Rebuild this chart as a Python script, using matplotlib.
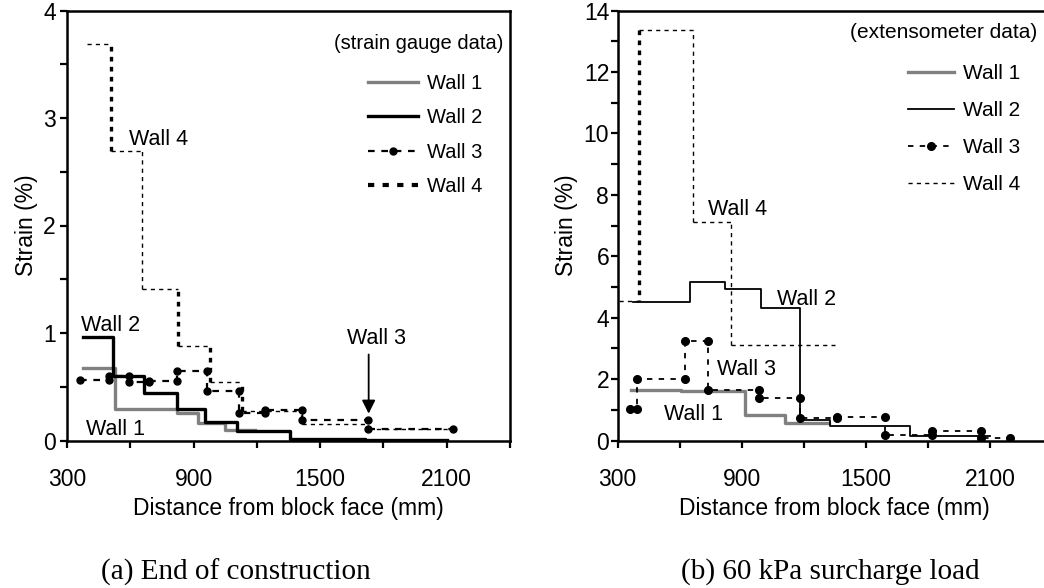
import numpy as np
import matplotlib.pyplot as plt
from matplotlib.lines import Line2D

plt.rcParams['font.family'] = ['Liberation Sans', 'DejaVu Sans']

# (a) end of construction - strain gauge data
# step edges (mm from block face) and strain (%) on each step
a_w1_x = [376, 526, 821, 920, 1050, 1192]
a_w1_y = [0.67, 0.29, 0.26, 0.16, 0.10]
a_w2_x = [376, 516, 663, 821, 955, 1108, 1358, 1714, 2100]
a_w2_y = [0.96, 0.60, 0.44, 0.29, 0.17, 0.09, 0.016, 0.003]
a_w3_x = [363, 497, 593, 690, 820, 965, 1113, 1239, 1413, 1725, 2132]
a_w3_y = [0.56, 0.60, 0.54, 0.55, 0.65, 0.46, 0.26, 0.28, 0.19, 0.11]
a_w4_x = [397, 508, 655, 825, 979, 1129, 1413, 1725, 2132]
a_w4_y = [3.69, 2.69, 1.41, 0.88, 0.54, 0.27, 0.155, 0.11]

# (b) 60 kPa surcharge - extensometer data
b_w1_x = [366, 608, 914, 1108, 1320]
b_w1_y = [1.63, 1.60, 0.83, 0.58]
b_w2_x = [374, 648, 821, 995, 1181, 1326, 1713, 2100]
b_w2_y = [4.50, 5.15, 4.94, 4.30, 0.66, 0.48, 0.16]
b_w3_x = [358, 393, 624, 737, 982, 1181, 1360, 1593, 1822, 2055, 2198]
b_w3_y = [1.03, 2.00, 3.24, 1.63, 1.40, 0.72, 0.77, 0.19, 0.32, 0.09]
b_w4_x = [305, 403, 664, 847, 1350]
b_w4_y = [4.55, 13.36, 7.12, 3.12]

labels = ['Wall 1', 'Wall 2', 'Wall 3', 'Wall 4']
xticks = [300, 600, 900, 1200, 1500, 1800, 2100, 2400]
xticklabels = ['300', '', '900', '', '1500', '', '2100', '']

GRAY = '#808080'


def steps(edges, vals):
    e = np.asarray(edges, float)
    v = np.asarray(vals, float)
    return np.repeat(e, 2)[1:-1], np.repeat(v, 2)


def wall4(ax, edges, vals, thick):
    e = np.asarray(edges, float)
    v = np.asarray(vals, float)
    ax.hlines(v, e[:-1], e[1:], colors='k', lw=1.0, linestyles=(0, (3, 3)), zorder=3)
    for xv, y0, y1, t in zip(e[1:-1], v[:-1], v[1:], thick):
        if t:
            ax.vlines(xv, y1, y0, colors='k', lw=2.4, linestyles=(0, (1.4, 1.6)), zorder=3)
        else:
            ax.vlines(xv, y1, y0, colors='k', lw=1.0, linestyles=(0, (3, 3)), zorder=3)


def style_axes(ax, ymax, ystep, yminor, ypad):
    ax.set_xlim(300, 2400)
    ax.set_ylim(0, ymax)
    ax.set_xticks(xticks)
    ax.set_xticklabels(xticklabels)
    ax.set_yticks(np.arange(0, ymax + 0.01, ystep))
    ax.set_yticks(np.arange(0, ymax + 0.01, yminor), minor=True)
    for s in ax.spines.values():
        s.set_linewidth(1.8)
    ax.tick_params(axis='both', which='both', direction='out', length=5, width=1.6,
                   labelsize=16.5)
    ax.tick_params(axis='x', pad=15)
    ax.tick_params(axis='y', pad=ypad)
    ax.set_xlabel('Distance from block face (mm)', fontsize=16.5, labelpad=4)
    ax.set_ylabel('Strain (%)', fontsize=16.5, labelpad=4)


fig = plt.figure(figsize=(10.44, 5.88), dpi=100)

# ---------- panel (a) ----------
ax1 = fig.add_axes([67 / 1044, 147.5 / 588, 443 / 1044, 430 / 588])
x, y = steps(a_w1_x, a_w1_y)
ax1.plot(x, y, color=GRAY, lw=2.4, zorder=2)
x, y = steps(a_w2_x, a_w2_y)
ax1.plot(x, y, color='k', lw=2.4, zorder=3)
x, y = steps(a_w3_x, a_w3_y)
ax1.plot(x, y, color='k', lw=1.6, ls=(0, (3, 3)), marker='o', ms=5, zorder=4)
wall4(ax1, a_w4_x, a_w4_y, [1, 0, 1, 1, 1, 0, 0])
style_axes(ax1, 4, 1, 0.5, 3)

ax1.text(594, 2.80, 'Wall 4', fontsize=15.5, va='center')
ax1.text(366, 1.07, 'Wall 2', fontsize=15.5, va='center')
ax1.text(390, 0.10, 'Wall 1', fontsize=15.5, va='center')
ax1.text(1769, 0.95, 'Wall 3', fontsize=15.5, ha='center', va='center')
ax1.annotate('', xy=(1730, 0.25), xytext=(1730, 0.80),
             arrowprops=dict(arrowstyle='-|>', color='k', lw=1.3, mutation_scale=20,
                             shrinkA=0, shrinkB=0))
ax1.text(2370, 3.69, '(strain gauge data)', fontsize=14.5, ha='right', va='center')

h_a = [Line2D([], [], color=GRAY, lw=2.4),
       Line2D([], [], color='k', lw=2.4),
       Line2D([], [], color='k', lw=1.6, ls=(0, (3, 3)), marker='o', ms=5),
       Line2D([], [], color='k', lw=3, ls=(0, (1.5, 2)))]
ax1.legend(h_a, labels, loc='upper left', bbox_to_anchor=(368 / 1044, 1 - 74 / 588),
           bbox_transform=fig.transFigure, frameon=False, fontsize=14.5,
           handlelength=2.5, handletextpad=0.45, labelspacing=0.76,
           borderpad=0, borderaxespad=0)

# ---------- panel (b) ----------
ax2 = fig.add_axes([617.5 / 1044, 147.5 / 588, 434.5 / 1044, 430 / 588])
x, y = steps(b_w1_x, b_w1_y)
ax2.plot(x, y, color=GRAY, lw=2.4, zorder=2)
x, y = steps(b_w2_x, b_w2_y)
ax2.plot(x, y, color='k', lw=1.3, zorder=3)
x, y = steps(b_w3_x, b_w3_y)
ax2.plot(x, y, color='k', lw=1.3, ls=(0, (3, 3.5)), marker='o', ms=5.5, zorder=4)
wall4(ax2, b_w4_x, b_w4_y, [1, 0, 0])
style_axes(ax2, 14, 2, 1, 1)
ax2.spines['right'].set_visible(False)

ax2.text(735, 7.52, 'Wall 4', fontsize=15.5, va='center')
ax2.text(1069, 4.60, 'Wall 2', fontsize=15.5, va='center')
ax2.text(779, 2.32, 'Wall 3', fontsize=15.5, va='center')
ax2.text(527, 0.86, 'Wall 1', fontsize=15.5, va='center')
fig.text(1037 / 1044, 1 - 33 / 588, '(extensometer data)', fontsize=15, ha='right', va='center')

h_b = [Line2D([], [], color=GRAY, lw=2.4),
       Line2D([], [], color='k', lw=1.3),
       Line2D([], [], color='k', lw=1.3, ls=(0, (3, 3.5)), marker='o', ms=5.5),
       Line2D([], [], color='k', lw=1.0, ls=(0, (3, 3)))]
ax2.legend(h_b, labels, loc='upper left', bbox_to_anchor=(908 / 1044, 1 - 64 / 588),
           bbox_transform=fig.transFigure, frameon=False, fontsize=15,
           handlelength=2.2, handletextpad=0.45, labelspacing=0.87,
           borderpad=0, borderaxespad=0)

# captions
fig.text(236 / 1044, 1 - 572 / 588, '(a) End of construction',
         family=['Liberation Serif', 'DejaVu Serif'], fontsize=21, ha='center', va='center')
fig.text(830 / 1044, 1 - 572 / 588, '(b) 60 kPa surcharge load',
         family=['Liberation Serif', 'DejaVu Serif'], fontsize=21, ha='center', va='center')

fig.savefig('out.png', dpi=100)
